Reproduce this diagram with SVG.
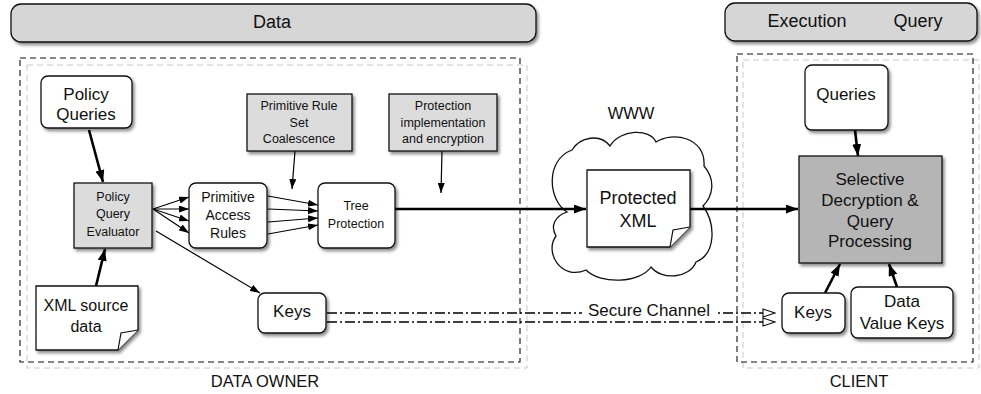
<svg xmlns="http://www.w3.org/2000/svg" width="981" height="394" viewBox="0 0 981 394">
<defs>
<style>
text{font-family:"Liberation Sans",Arial,sans-serif;fill:#111;text-anchor:middle}
.box{fill:#fff;stroke:#111;stroke-width:1.3}
.gray{fill:#dcdcdc;stroke:#111;stroke-width:1.3}
.dark{fill:#b5b5b5;stroke:#111;stroke-width:1.3}
.banner{fill:#d6d6d6;stroke:#111;stroke-width:1.3}
.thick{stroke:#000;stroke-width:2.6;fill:none;marker-end:url(#ah)}
.thin{stroke:#000;stroke-width:1.2;fill:none;marker-end:url(#as)}
.sec{stroke:#000;stroke-width:1.4;fill:none;stroke-dasharray:10 3 2 3;marker-end:url(#ho)}
.dk{fill:none;stroke:#111;stroke-width:1.1;stroke-dasharray:6 4}
.lt{fill:none;stroke:#c8c8c8;stroke-width:1;stroke-dasharray:6 4}
</style>
<filter id="sh" x="-10%" y="-10%" width="125%" height="130%">
<feDropShadow dx="2" dy="2.5" stdDeviation="1.5" flood-color="#000" flood-opacity="0.45"/>
</filter>
<marker id="ah" markerUnits="userSpaceOnUse" markerWidth="12" markerHeight="9" refX="12" refY="4.5" orient="auto">
<path d="M0,0 L12,4.5 L0,9 z" fill="#000"/>
</marker>
<marker id="as" markerUnits="userSpaceOnUse" markerWidth="10" markerHeight="7" refX="10" refY="3.5" orient="auto">
<path d="M0,0 L10,3.5 L0,7 z" fill="#000"/>
</marker>
<marker id="ho" markerUnits="userSpaceOnUse" markerWidth="14" markerHeight="10" refX="13" refY="5" orient="auto">
<path d="M1,1 L13,5 L1,9 z" fill="#fff" stroke="#111" stroke-width="1.1"/>
</marker>
</defs>
<rect width="981" height="394" fill="#fff"/>

<g id="banner-data">
<rect class="banner" x="11" y="4" width="525" height="38" rx="10" filter="url(#sh)"/>
<text x="272" y="28" font-size="18">Data</text>
</g>
<g id="banner-client">
<rect class="banner" x="725" y="3" width="252" height="38" rx="10" filter="url(#sh)"/>
<text x="807" y="27" font-size="18">Execution</text>
<text x="918" y="27" font-size="18">Query</text>
</g>

<g id="data-owner">
<rect class="lt" x="27" y="65" width="500" height="303"/>
<rect class="dk" x="20" y="58" width="500" height="304"/>
<text x="265" y="387" font-size="16.5">DATA OWNER</text>
</g>
<g id="client">
<rect class="lt" x="743" y="60" width="236" height="308"/>
<rect class="dk" x="737" y="54" width="236" height="308"/>
<text x="859" y="387" font-size="16.5">CLIENT</text>
</g>

<g id="www">
<path d="M567,212 C548,200 545,160 572,150 C580,137 600,133 610,146 C620,129 650,128 656,142 C672,131 706,137 704,166 C716,180 713,196 703,206 C716,224 716,254 696,262 C690,278 662,281 651,267 C640,283 601,285 586,270 C561,281 544,252 556,236 C550,226 555,216 567,212 Z" fill="#fff" stroke="#111" stroke-width="1.3"/>
<text x="631" y="119" font-size="16.5">WWW</text>
</g>

<g id="connectors">
<line class="thick" x1="89" y1="130" x2="103" y2="182"/>
<line class="thick" x1="96" y1="286" x2="105" y2="249"/>
<line class="thin" x1="153" y1="209" x2="189" y2="197"/>
<line class="thin" x1="153" y1="209" x2="189" y2="209"/>
<line class="thin" x1="153" y1="209" x2="189" y2="221"/>
<line class="thin" x1="153" y1="209" x2="189" y2="233"/>
<line class="thin" x1="268" y1="196" x2="318" y2="205"/>
<line class="thin" x1="268" y1="209" x2="318" y2="211"/>
<line class="thin" x1="268" y1="222" x2="318" y2="218"/>
<line class="thin" x1="268" y1="234" x2="318" y2="225"/>
<line class="thin" x1="295" y1="151" x2="292" y2="189"/>
<line class="thin" x1="442" y1="151" x2="441" y2="193"/>
<line class="thin" x1="156" y1="231" x2="260" y2="293"/>
<line class="thick" x1="395" y1="209" x2="586" y2="209"/>
<line class="thick" x1="690" y1="209" x2="798" y2="209"/>
<line class="thick" x1="855" y1="130" x2="858" y2="156"/>
<line class="thick" x1="825" y1="293" x2="840" y2="264"/>
<line class="thick" x1="897" y1="287" x2="889" y2="264"/>
<line class="sec" x1="327" y1="313" x2="775" y2="313"/>
<line class="sec" x1="327" y1="322" x2="775" y2="322"/>
<rect x="582" y="300" width="136" height="19" fill="#fff"/>
<text x="649" y="316" font-size="17">Secure Channel</text>
</g>

<g id="policy-queries">
<rect class="box" x="41" y="76" width="91" height="52" rx="7" filter="url(#sh)"/>
<text x="86" y="100" font-size="17">Policy</text>
<text x="86" y="120" font-size="17">Queries</text>
</g>
<g id="policy-query-evaluator">
<rect class="gray" x="74" y="183" width="78" height="65" filter="url(#sh)"/>
<text x="113" y="201" font-size="12.5">Policy</text>
<text x="113" y="218" font-size="12.5">Query</text>
<text x="113" y="236" font-size="12.5">Evaluator</text>
</g>
<g id="xml-source-data">
<path class="box" d="M36,286 H138 V330 L118,350 H36 Z" filter="url(#sh)"/>
<path d="M118,350 L121,333 L138,330" fill="#fff" stroke="#111" stroke-width="1.2"/>
<text x="86" y="311" font-size="16">XML source</text>
<text x="86" y="332" font-size="16">data</text>
</g>
<g id="primitive-access-rules">
<rect class="box" x="189" y="183" width="78" height="65" rx="7" filter="url(#sh)"/>
<text x="228" y="202" font-size="14">Primitive</text>
<text x="228" y="220" font-size="14">Access</text>
<text x="228" y="238" font-size="14">Rules</text>
</g>
<g id="tree-protection">
<rect class="box" x="318" y="183" width="77" height="65" rx="7" filter="url(#sh)"/>
<text x="356" y="210" font-size="12.5">Tree</text>
<text x="356" y="228" font-size="12.5">Protection</text>
</g>
<g id="coalescence">
<rect class="gray" x="247" y="94" width="105" height="57" filter="url(#sh)"/>
<text x="299" y="110" font-size="12.5">Primitive Rule</text>
<text x="299" y="127" font-size="12.5">Set</text>
<text x="299" y="143" font-size="12.5">Coalescence</text>
</g>
<g id="protection-impl">
<rect class="gray" x="389" y="94" width="108" height="57" filter="url(#sh)"/>
<text x="443" y="110" font-size="12.5">Protection</text>
<text x="443" y="127" font-size="12.5">implementation</text>
<text x="443" y="143" font-size="12.5">and encryption</text>
</g>
<g id="keys-owner">
<rect class="box" x="258" y="293" width="68" height="40" rx="7" filter="url(#sh)"/>
<text x="292" y="317" font-size="17">Keys</text>
</g>
<g id="protected-xml">
<path class="box" d="M587,170 H690 V227 L670,247 H587 Z" filter="url(#sh)"/>
<path d="M670,247 L673,230 L690,227" fill="#fff" stroke="#111" stroke-width="1.2"/>
<text x="638" y="204" font-size="18">Protected</text>
<text x="638" y="227" font-size="18">XML</text>
</g>
<g id="queries">
<rect class="box" x="805" y="65" width="83" height="65" rx="7" filter="url(#sh)"/>
<text x="846" y="100" font-size="17">Queries</text>
</g>
<g id="selective-decryption">
<rect class="dark" x="799" y="156" width="143" height="107" filter="url(#sh)"/>
<text x="870" y="185" font-size="17">Selective</text>
<text x="870" y="206" font-size="17">Decryption &amp;</text>
<text x="870" y="227" font-size="17">Query</text>
<text x="870" y="247" font-size="17">Processing</text>
</g>
<g id="keys-client">
<rect class="box" x="782" y="293" width="63" height="40" rx="7" filter="url(#sh)"/>
<text x="813" y="318" font-size="17">Keys</text>
</g>
<g id="data-value-keys">
<rect class="box" x="851" y="287" width="102" height="51" rx="7" filter="url(#sh)"/>
<text x="902" y="307" font-size="17">Data</text>
<text x="902" y="329" font-size="17">Value Keys</text>
</g>
</svg>
